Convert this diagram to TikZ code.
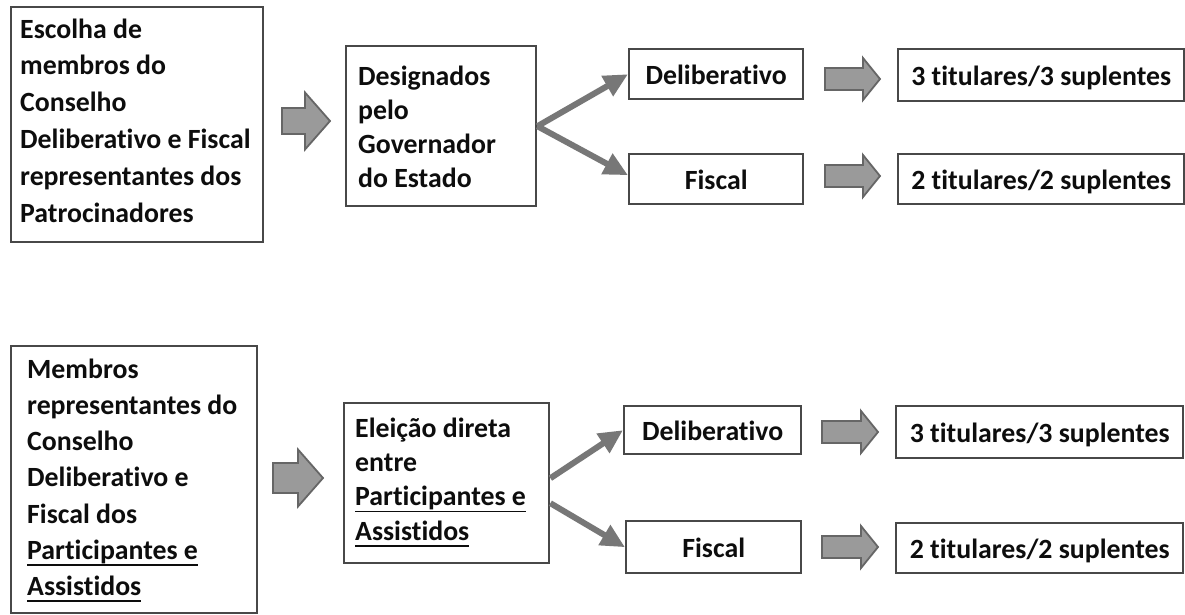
\documentclass[tikz,border=0pt]{standalone}
\usepackage{fontspec}
\setmainfont{Carlito}[Ligatures=CommonOff]
\usetikzlibrary{arrows.meta}
\definecolor{boxline}{HTML}{484848}
\definecolor{arrowfill}{HTML}{9A9A9A}
\definecolor{arrowline}{HTML}{666666}
\definecolor{connline}{HTML}{777777}
\definecolor{ink}{HTML}{0D0D0D}
\newcommand\myul[1]{\setbox0\hbox{#1}\rlap{\rule[-6.5pt]{\wd0}{1.7pt}}\box0}
\newcommand\blockarr[6]{%
  \draw[blockarrow] (#1,#3-#4) -- (#2-#6,#3-#4) -- (#2-#6,#3-#5) -- (#2,#3)
    -- (#2-#6,#3+#5) -- (#2-#6,#3+#4) -- (#1,#3+#4) -- cycle;}
\tikzset{
  box/.style={draw=boxline, line width=2.4pt, fill=white, anchor=north west, inner sep=0pt},
  onebox/.style={box, text height=20pt, text depth=0pt},
  txt/.style={anchor=north west, inner sep=0pt, align=left},
  blockarrow/.style={fill=arrowfill, draw=arrowline, line width=1.8pt, line join=miter},
  conn/.style={draw=connline, line width=6pt, -{Triangle[length=24pt,width=22pt]}},
}
\begin{document}
\begin{tikzpicture}[x=1pt, y=-1pt, font=\fontsize{27.8}{34}\selectfont\bfseries, text=ink]
\useasboundingbox (0,0) rectangle (1185,614);
\fill[white] (0,0) rectangle (1185,614);

% top row
\node[box, minimum width=252pt, minimum height=235pt] (a1) at (10,6) {};
\node[txt, font=\fontsize{27.8}{36.8}\selectfont\bfseries] (a1t) at (20,12.2)
  {\strut Escolha de\\\strut membros do\\\strut Conselho\\\strut Deliberativo e Fiscal\\\strut representantes dos\\\strut Patrocinadores};
\node[box, minimum width=190pt, minimum height=160pt] (b1) at (345,45) {};
\node[txt, font=\fontsize{27.8}{34}\selectfont\bfseries] (b1t) at (358,61.2)
  {\strut Designados\\\strut pelo\\\strut Governador\\\strut do Estado};
\node[onebox, minimum width=174pt, minimum height=50pt] (d1) at (628,48) {Deliberativo};
\node[onebox, minimum width=174pt, minimum height=50pt] (f1) at (628,153) {Fiscal};
\node[onebox, minimum width=286pt, minimum height=52pt] (r1) at (897,48) {3 titulares/3 suplentes};
\node[onebox, minimum width=286pt, minimum height=50pt] (r2) at (897,153) {2 titulares/2 suplentes};

% bottom row
\node[box, minimum width=246pt, minimum height=267pt] (a2) at (10,345) {};
\node[txt, font=\fontsize{27.8}{36.2}\selectfont\bfseries] (a2t) at (27,352.7)
  {\strut Membros\\\strut representantes do\\\strut Conselho\\\strut Deliberativo e\\\strut Fiscal dos\\\strut \myul{Participantes e}\\\strut \myul{Assistidos}};
\node[box, minimum width=205pt, minimum height=160pt] (b2) at (343,402) {};
\node[txt, font=\fontsize{27.8}{34.3}\selectfont\bfseries] (b2t) at (355,413)
  {\strut Eleição direta\\\strut entre\\\strut \myul{Participantes e}\\\strut \myul{Assistidos}};
\node[onebox, minimum width=177pt, minimum height=48pt] (d2) at (623,405) {Deliberativo};
\node[onebox, minimum width=175pt, minimum height=52pt] (f2) at (625,520) {Fiscal};
\node[onebox, minimum width=287pt, minimum height=52pt] (r3) at (895,405) {3 titulares/3 suplentes};
\node[onebox, minimum width=287pt, minimum height=50pt] (r4) at (895,522) {2 titulares/2 suplentes};

% block arrows
\blockarr{282}{330}{121}{13}{28.5}{25}
\blockarr{273}{323}{478}{15}{28.5}{25}
\blockarr{825}{880}{79}{11}{21}{17}
\blockarr{825}{880}{176}{11}{21}{17}
\blockarr{822}{878}{432}{11}{21}{17}
\blockarr{822}{878}{547}{11}{21}{17}

% connectors
\draw[conn] (b1.east) -- (d1.west);
\draw[conn] (b1.east) -- ([yshift=4pt]f1.west);
\draw[conn] ([yshift=5pt]b2.east) -- (d2.west);
\draw[conn] ([yshift=-20pt]b2.east) -- (f2.west);
\end{tikzpicture}
\end{document}
